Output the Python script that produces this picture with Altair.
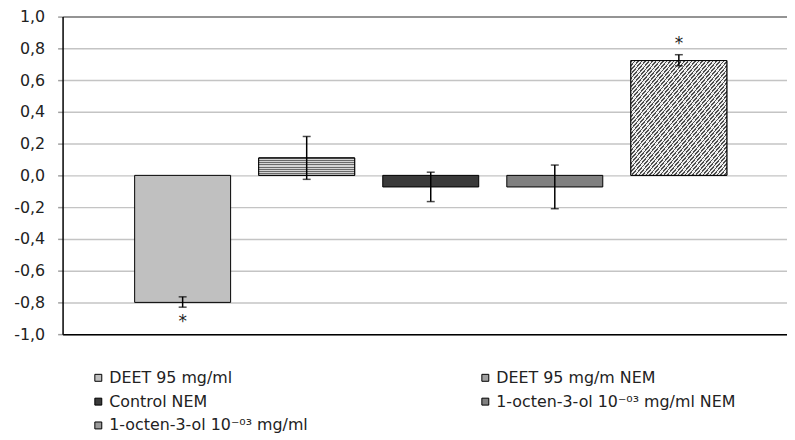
import altair as alt
import pandas as pd

series = [
    "DEET 95 mg/ml",
    "DEET 95 mg/m NEM",
    "Control NEM",
    "1-octen-3-ol 10⁻⁰³ mg/ml NEM",
    "1-octen-3-ol 10⁻⁰³ mg/ml",
]
values = [-0.80, 0.11, -0.073, -0.073, 0.723]
err_low = [-0.83, -0.025, -0.165, -0.21, 0.69]
err_high = [-0.765, 0.245, 0.02, 0.065, 0.76]
signif = ["*", "", "", "", "*"]
fills = ["#c0c0c0", "#a0a0a0", "#3a3a3a", "#808080", "#9a9a9a"]
patterns = ["none", "horizontal", "none", "none", "diagonal"]
ytick_values = [-1.0, -0.8, -0.6, -0.4, -0.2, 0.0, 0.2, 0.4, 0.6, 0.8, 1.0]

df = pd.DataFrame({
    "series": series,
    "value": values,
    "err_low": err_low,
    "err_high": err_high,
    "sig": signif,
    "pattern": patterns,
})

FONT = "DejaVu Sans"


def stripes(n, dark, light, frac, x2, y2):
    stops = []
    for i in range(n):
        a = i / n
        b = (i + frac) / n
        c = (i + 1) / n
        stops += [
            {"offset": a, "color": dark},
            {"offset": b, "color": dark},
            {"offset": b, "color": light},
            {"offset": c, "color": light},
        ]
    return {"gradient": "linear", "x1": 0, "y1": 0, "x2": x2, "y2": y2, "stops": stops}


grad_h = stripes(8, "#6a6a6a", "#d4d4d4", 0.45, 0, 1)
grad_d = stripes(54, "#505050", "#efefef", 0.42, 1, 1)

x = alt.X(
    "series:N",
    sort=series,
    title=None,
    scale=alt.Scale(paddingInner=0.2264, paddingOuter=0.533, align=0.545),
    axis=alt.Axis(labels=False, ticks=False, domainColor="#000000",
                  domainWidth=1.5, grid=False, title=None),
)

y_axis = alt.Axis(
    title=None,
    values=ytick_values,
    tickCount=len(ytick_values),
    labelExpr="replace(replace(format(datum.value, '.1f'), '.', ','), '\u2212', '-')",
    labelOverlap=False,
    labelBound=False,
    labelFlush=False,
    grid=True,
    gridColor={"condition": {"test": "datum.value >= 0.99", "value": "#707070"},
               "value": "#c4c4c4"},
    gridWidth=1.5,
    domainColor="#000000",
    domainWidth=1.5,
    tickColor="#a0a0a0",
    tickSize=5,
    tickWidth=1.5,
    labelPadding=13,
    labelFont=FONT,
    labelFontSize=16,
    labelColor="#222222",
)

yscale = alt.Scale(domain=[-1, 1], nice=False, zero=False)

base = alt.Chart(df).encode(x=x)

bars = base.mark_bar(stroke="#000000", strokeWidth=1).encode(
    y=alt.Y("value:Q", scale=yscale, axis=y_axis, title=None),
    y2=alt.datum(0),
    color=alt.Color(
        "series:N",
        sort=series,
        scale=alt.Scale(domain=series, range=fills),
        legend=alt.Legend(
            title=None, orient="none", legendX=28, legendY=356,
            direction="horizontal",
            columns=2, columnPadding=170, rowPadding=8,
            symbolType="square", symbolSize=49,
            symbolStrokeColor="#000000", symbolStrokeWidth=1,
            labelFont=FONT, labelFontSize=16, labelColor="#222222",
            labelOffset=3, labelLimit=400, padding=0,
        ),
    ),
)

hbars = base.transform_filter(alt.datum.pattern == "horizontal").mark_bar(
    fill=grad_h, stroke="#000000", strokeWidth=1
).encode(y=alt.Y("value:Q", title=None), y2=alt.datum(0))

dbars = base.transform_filter(alt.datum.pattern == "diagonal").mark_bar(
    fill=grad_d, stroke="#000000", strokeWidth=1
).encode(y=alt.Y("value:Q", title=None), y2=alt.datum(0))

errs = base.mark_rule(color="#000000", strokeWidth=1.5).encode(
    y=alt.Y("err_low:Q", title=None), y2="err_high:Q"
)
cap_lo = base.mark_tick(color="#000000", size=8, thickness=1.5).encode(
    y=alt.Y("err_low:Q", title=None)
)
cap_hi = base.mark_tick(color="#000000", size=8, thickness=1.5).encode(
    y=alt.Y("err_high:Q", title=None)
)

stars_neg = base.transform_filter("datum.sig != '' && datum.value < 0").mark_text(
    dy=15, fontSize=17, font=FONT, color="#222222", baseline="middle"
).encode(y=alt.Y("err_low:Q", title=None), text="sig:N")

stars_pos = base.transform_filter("datum.sig != '' && datum.value > 0").mark_text(
    dy=-11, fontSize=17, font=FONT, color="#222222", baseline="middle"
).encode(y=alt.Y("err_high:Q", title=None), text="sig:N")

chart = alt.layer(
    bars, hbars, dbars, errs, cap_lo, cap_hi, stars_neg, stars_pos
).properties(
    width=730,
    height=320,
    background="white",
    autosize=alt.AutoSizeParams(type="none"),
    padding={"left": 55, "top": 7, "right": 0, "bottom": 105},
).configure_view(stroke=None)

chart.save("out.html", embed_options={"renderer": "svg", "actions": False})
